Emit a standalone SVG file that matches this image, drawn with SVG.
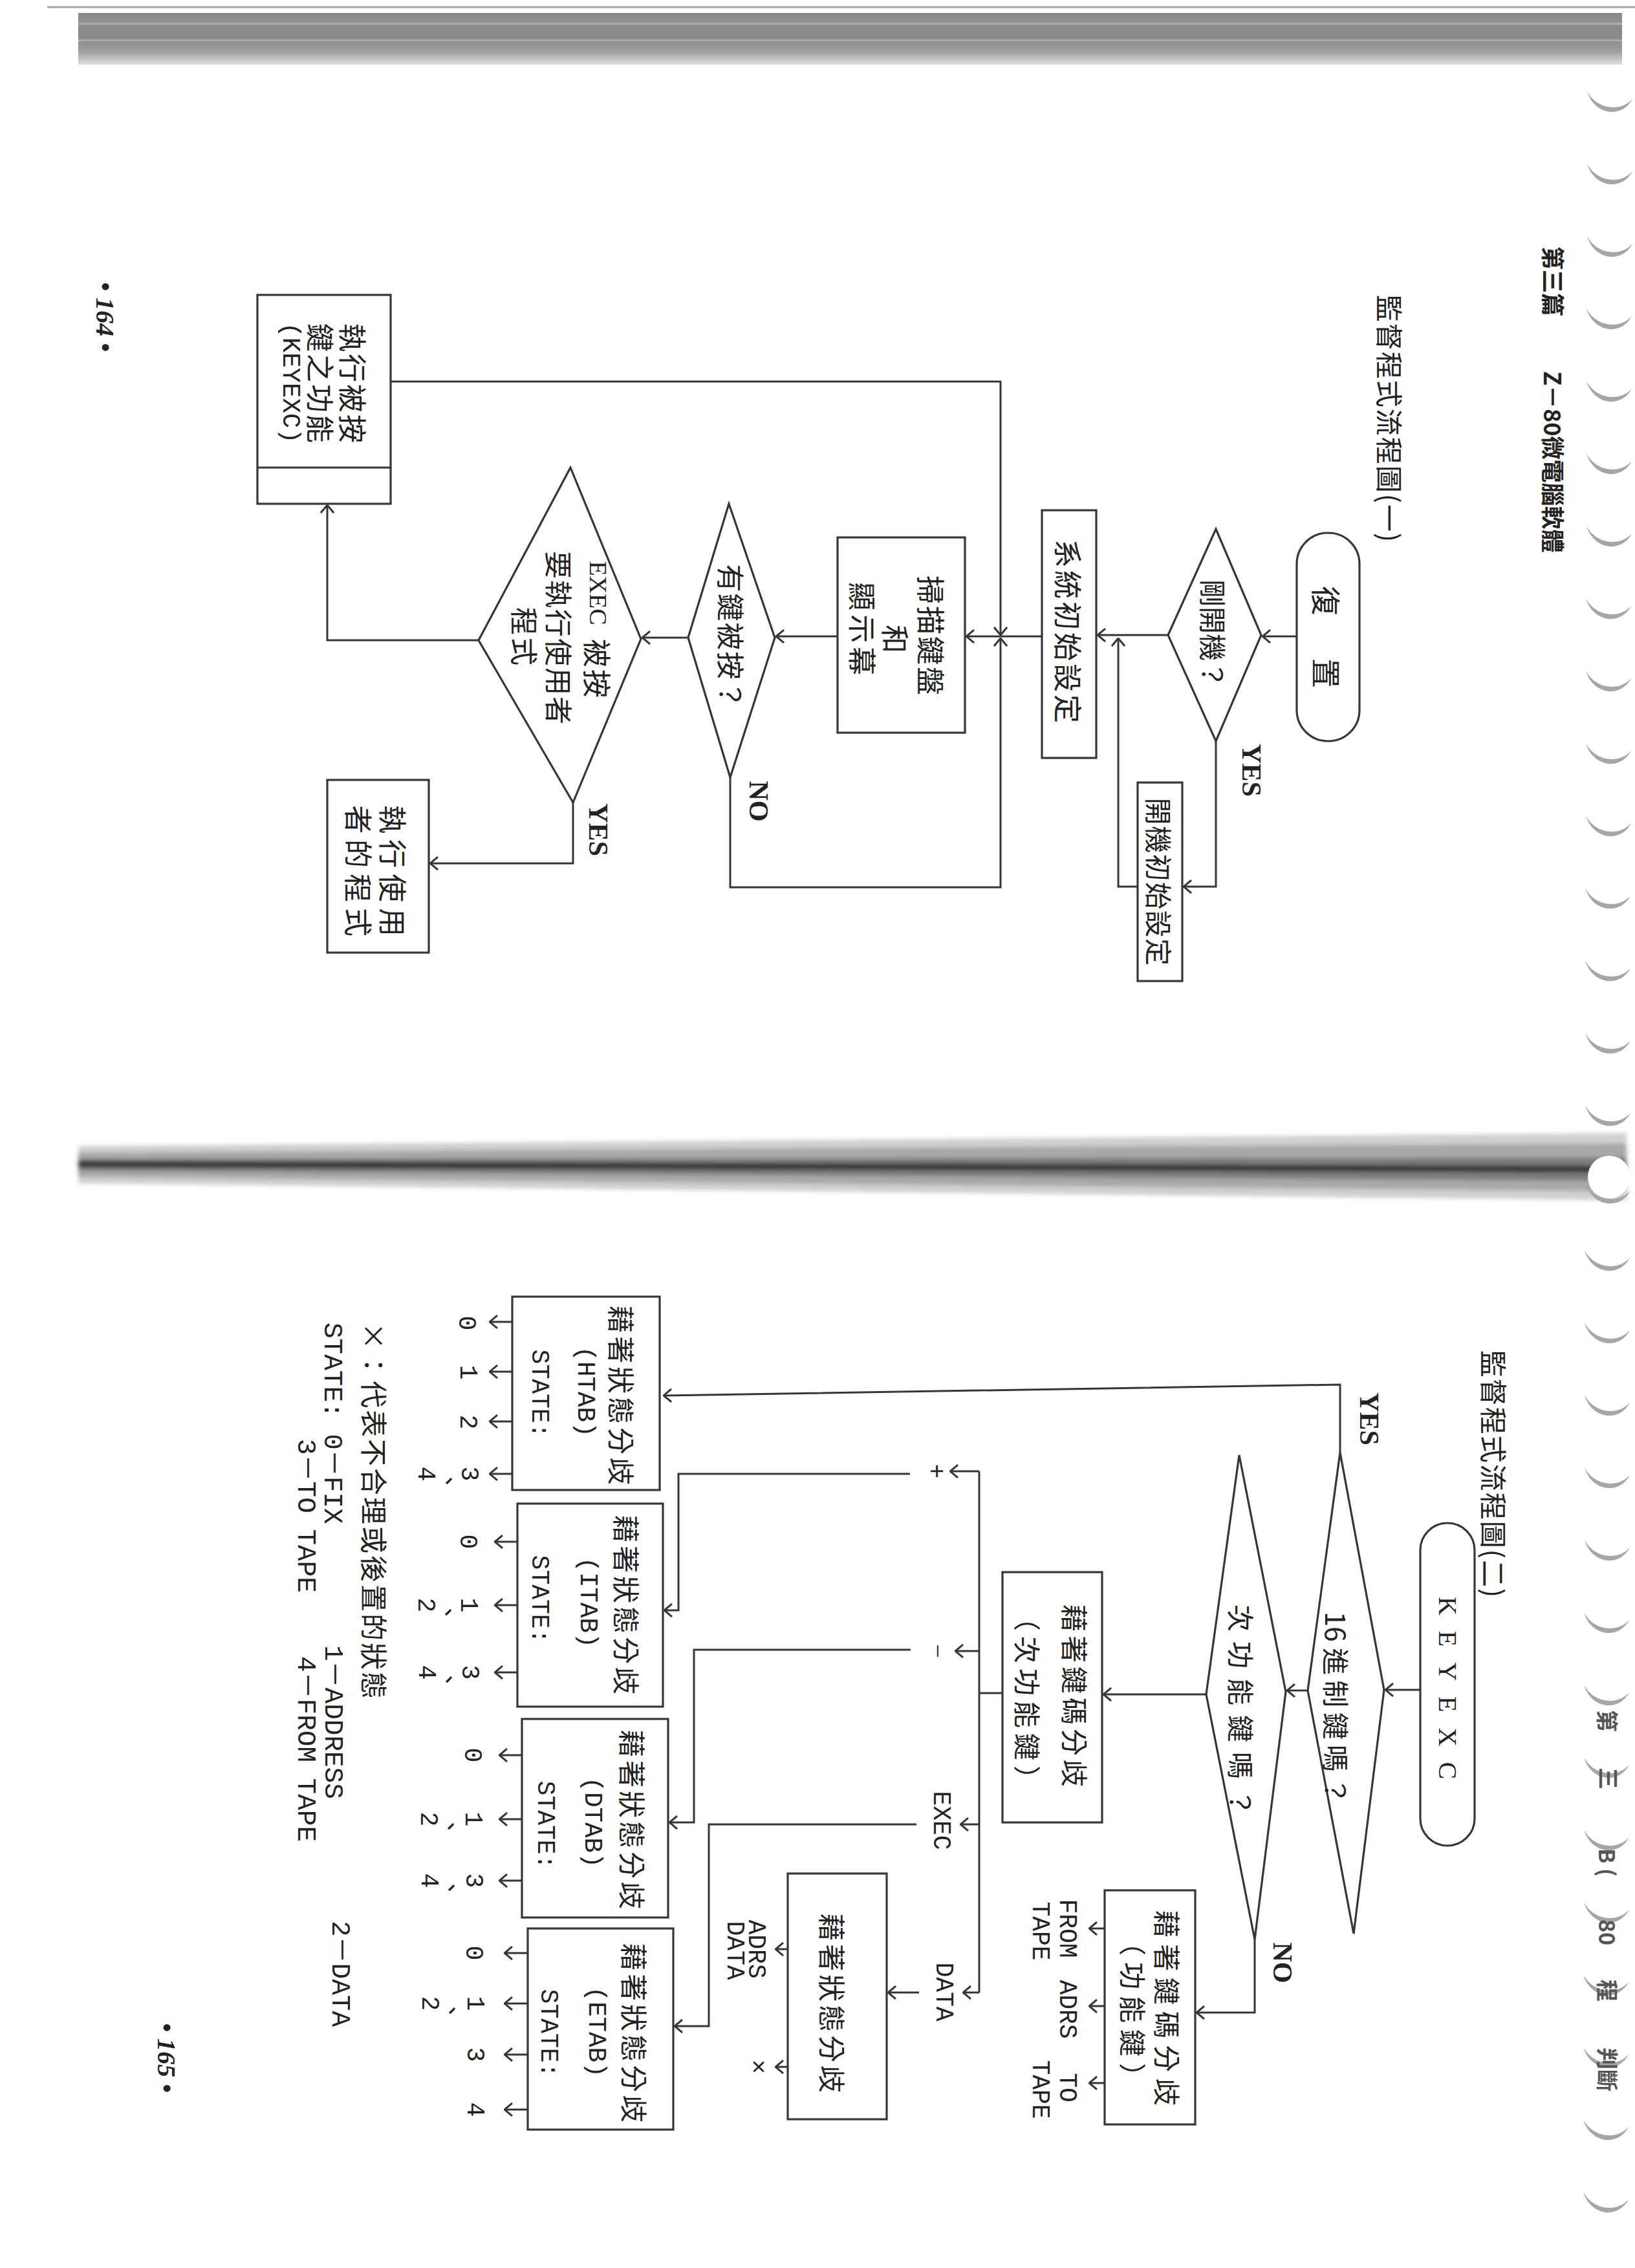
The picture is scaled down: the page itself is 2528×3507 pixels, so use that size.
<svg xmlns="http://www.w3.org/2000/svg" width="2528" height="3507" viewBox="0 0 2528 3507">
  <defs>
    <style>
      .ln { fill: none; stroke: #363636; stroke-width: 3; stroke-linejoin: miter; }
      .arr { marker-end: url(#ah); }
      .box { fill: #ffffff; stroke: #363636; stroke-width: 3.2; }
      .cjk { font-family: "Noto Sans CJK TC", "Noto Sans CJK SC", sans-serif; fill: #222222; text-anchor: middle; dominant-baseline: central; }
      .hdr { font-family: "Noto Sans CJK TC", "Noto Sans CJK SC", sans-serif; fill: #222222; font-weight: 700; dominant-baseline: central; }
      .frag { font-family: "Noto Sans CJK TC", "Noto Sans CJK SC", sans-serif; fill: #555555; font-weight: 700; font-size: 34px; text-anchor: middle; dominant-baseline: central; }
      .mono { font-family: "Liberation Mono", "Noto Sans CJK TC", monospace; fill: #222222; text-anchor: middle; dominant-baseline: central; }
      .serif { font-family: "Liberation Serif", "Noto Sans CJK TC", serif; fill: #222222; text-anchor: middle; dominant-baseline: central; }
      .yn { font-family: "Liberation Serif", serif; font-weight: 700; font-size: 42px; fill: #222222; text-anchor: middle; dominant-baseline: central; }
      .pg { font-family: "Liberation Serif", serif; font-weight: 700; font-style: italic; font-size: 40px; fill: #222222; text-anchor: middle; dominant-baseline: central; }
      .st { font-size: 38px; }
      .fn { font-size: 41px; text-anchor: start; }
      .ring { fill: #a6a6a6; stroke: none; }
    </style>
    <marker id="ah" viewBox="0 0 14 22" refX="13" refY="11" markerWidth="14" markerHeight="22" markerUnits="userSpaceOnUse" orient="auto">
      <path d="M1,1 L13,11 L1,21" fill="none" stroke="#363636" stroke-width="3"/>
    </marker>
    <linearGradient id="topband" x1="0" y1="0" x2="0" y2="1">
      <stop offset="0" stop-color="#888888"/>
      <stop offset="0.18" stop-color="#909090"/>
      <stop offset="0.21" stop-color="#b2b2b2"/>
      <stop offset="0.24" stop-color="#8b8b8b"/>
      <stop offset="0.5" stop-color="#898989"/>
      <stop offset="0.53" stop-color="#b4b4b4"/>
      <stop offset="0.56" stop-color="#909090"/>
      <stop offset="0.75" stop-color="#a0a0a0"/>
      <stop offset="0.9" stop-color="#c6c6c6"/>
      <stop offset="1" stop-color="#e0e0e0"/>
    </linearGradient>
    <filter id="soft" x="-5%" y="-50%" width="110%" height="200%">
      <feGaussianBlur stdDeviation="3"/>
    </filter>
    <!-- shadow crescent left by one binding hole -->
    <path id="hole" class="ring" d="M-34 -16 C-24 20 19 28 36 -4 C17 17 -20 12 -34 -16 Z"/>
  </defs>

  <rect x="0" y="0" width="2528" height="3507" fill="#ffffff"/>

  <!-- paper edge, gutter shadows and binding holes -->
  <g id="paper">
    <path d="M73 11 H2528" stroke="#a6a6a6" stroke-width="3"/>
    <rect x="121" y="20" width="2387" height="80" fill="url(#topband)"/>
    <g filter="url(#soft)">
      <polygon points="121,1772 2515,1752 2515,1856 121,1830" fill="#d0d0d0"/>
      <polygon points="121,1782 2515,1768 2515,1842 121,1820" fill="#a8a8a8"/>
      <polygon points="121,1792 2515,1790 2515,1826 121,1810" fill="#7c7c7c"/>
      <path d="M121 1800 L2515 1808" stroke="#343434" stroke-width="10"/>
    </g>
    <circle cx="2488" cy="1820" r="33" fill="#ffffff"/>
    <g id="rings">
      <use href="#hole" x="2488" y="157"/>
      <use href="#hole" x="2488" y="269"/>
      <use href="#hole" x="2488" y="381"/>
      <use href="#hole" x="2487" y="493"/>
      <use href="#hole" x="2487" y="605"/>
      <use href="#hole" x="2487" y="717"/>
      <use href="#hole" x="2487" y="829"/>
      <use href="#hole" x="2486" y="941"/>
      <use href="#hole" x="2486" y="1053"/>
      <use href="#hole" x="2486" y="1165"/>
      <use href="#hole" x="2486" y="1277"/>
      <use href="#hole" x="2485" y="1389"/>
      <use href="#hole" x="2485" y="1501"/>
      <use href="#hole" x="2485" y="1613"/>
      <use href="#hole" x="2485" y="1725"/>
      <use href="#hole" x="2485" y="1845"/>
      <use href="#hole" x="2484" y="1949"/>
      <use href="#hole" x="2484" y="2061"/>
      <use href="#hole" x="2484" y="2173"/>
      <use href="#hole" x="2484" y="2285"/>
      <use href="#hole" x="2484" y="2397"/>
      <use href="#hole" x="2483" y="2509"/>
      <use href="#hole" x="2483" y="2621"/>
      <use href="#hole" x="2483" y="2733"/>
      <use href="#hole" x="2483" y="2845"/>
      <use href="#hole" x="2483" y="2957"/>
      <use href="#hole" x="2482" y="3069"/>
      <use href="#hole" x="2482" y="3181"/>
      <use href="#hole" x="2482" y="3293"/>
      <use href="#hole" x="2482" y="3405"/>
    </g>
  </g>

  <!-- running heads and page numbers -->
  <g id="page-furniture">
    <text class="hdr" font-size="36" text-anchor="middle" transform="translate(2403 435) rotate(90)">第三篇</text>
    <text class="hdr" font-size="36" text-anchor="start" transform="translate(2403 574) rotate(90)">Z－80微電腦軟體</text>
    <text class="pg" transform="translate(162 490) rotate(90)">• 164 •</text>
    <text class="pg" transform="translate(257 3182) rotate(90)">• 165 •</text>
    <text class="frag" transform="translate(2486 2661) rotate(90)">第</text>
    <text class="frag" transform="translate(2488 2750) rotate(90)">三</text>
    <text class="frag" transform="translate(2486 2880) rotate(90)">B (</text>
    <text class="frag" transform="translate(2486 2988) rotate(90)">80</text>
    <text class="frag" transform="translate(2486 3078) rotate(90)">程</text>
    <text class="frag" transform="translate(2486 3200) rotate(90)">判斷</text>
  </g>

  <!-- ===== Flowchart (一) ===== -->
  <text class="cjk" font-size="42" letter-spacing="2" transform="translate(2150 648) rotate(90)">監督程式流程圖(一)</text>

  <g id="c1-connectors">
    <path class="ln arr" d="M2005 984 H1952"/>
    <path class="ln arr" d="M1806 982 H1697"/>
    <path class="ln arr" d="M1880 1146 V1371 H1830"/>
    <path class="ln arr" d="M1759 1371 H1729 V987"/>
    <path class="ln arr" d="M1611 984 H1494"/>
    <path class="ln arr" d="M604 590 H1547 V982"/>
    <path class="ln arr" d="M1129 1202 V1372 H1547 V987"/>
    <path class="ln arr" d="M1295 984 H1200"/>
    <path class="ln arr" d="M1064 986 H993"/>
    <path class="ln arr" d="M740 990 H506 V781"/>
    <path class="ln arr" d="M886 1241 V1335 H665"/>
    <text class="yn" transform="translate(1935 1191) rotate(90)">YES</text>
    <text class="yn" transform="translate(1173 1239) rotate(90)">NO</text>
    <text class="yn" transform="translate(925 1283) rotate(90)">YES</text>
  </g>

  <g id="c1-reset">
    <rect class="box" x="2005" y="824" width="97" height="322" rx="48"/>
    <text class="cjk" font-size="46" letter-spacing="10" transform="translate(2053 990) rotate(90)">復　置</text>
  </g>
  <g id="c1-poweron">
    <polygon class="box" points="1880,818 1950,982 1880,1146 1806,982"/>
    <text class="cjk" font-size="42" transform="translate(1877 980) rotate(90)">剛開機？</text>
  </g>
  <g id="c1-sysinit">
    <rect class="box" x="1611" y="789" width="84" height="383"/>
    <text class="cjk" font-size="44" letter-spacing="4" transform="translate(1653 978) rotate(90)">系統初始設定</text>
  </g>
  <g id="c1-coldinit">
    <rect class="box" x="1759" y="1210" width="69" height="307"/>
    <text class="cjk" font-size="42" letter-spacing="1.5" transform="translate(1793 1364) rotate(90)">開機初始設定</text>
  </g>
  <g id="c1-scan">
    <rect class="box" x="1295" y="831" width="197" height="302"/>
    <text class="cjk" font-size="44" letter-spacing="3" transform="translate(1441 984) rotate(90)">掃描鍵盤</text>
    <text class="cjk" font-size="44" transform="translate(1386 988) rotate(90)">和</text>
    <text class="cjk" font-size="44" letter-spacing="6" transform="translate(1335 975) rotate(90)">顯示幕</text>
  </g>
  <g id="c1-keyq">
    <polygon class="box" points="1127,779 1198,986 1129,1202 1064,986"/>
    <text class="cjk" font-size="43" letter-spacing="2" transform="translate(1132 985) rotate(90)">有鍵被按？</text>
  </g>
  <g id="c1-execq">
    <polygon class="box" points="882,723 991,988 886,1241 740,990"/>
    <text class="serif" font-size="38" transform="translate(925 917) rotate(90)">EXEC</text>
    <text class="cjk" font-size="44" letter-spacing="3" transform="translate(925 1035) rotate(90)">被按</text>
    <text class="cjk" font-size="43" letter-spacing="2" transform="translate(866 987) rotate(90)">要執行使用者</text>
    <text class="cjk" font-size="43" letter-spacing="4" transform="translate(813 986) rotate(90)">程式</text>
  </g>
  <g id="c1-keyexc">
    <rect class="box" x="398" y="456" width="206" height="323"/>
    <path class="ln" d="M398 723 H604"/>
    <text class="cjk" font-size="44" letter-spacing="3" transform="translate(547 594) rotate(90)">執行被按</text>
    <text class="cjk" font-size="44" letter-spacing="3" transform="translate(497 594) rotate(90)">鍵之功能</text>
    <text class="mono" font-size="39" transform="translate(448 592) rotate(90)">(KEYEXC)</text>
  </g>
  <g id="c1-userprog">
    <rect class="box" x="506" y="1206" width="157" height="267"/>
    <text class="cjk" font-size="44" letter-spacing="9" transform="translate(609 1351) rotate(90)">執行使用</text>
    <text class="cjk" font-size="44" letter-spacing="9" transform="translate(556 1351) rotate(90)">者的程式</text>
  </g>

  <!-- ===== Flowchart (二) ===== -->
  <text class="cjk" font-size="42" letter-spacing="2" transform="translate(2311 2280) rotate(90)">監督程式流程圖(二)</text>

  <g id="c2-connectors">
    <path class="ln arr" d="M2196 2613 H2142"/>
    <path class="ln arr" d="M2022 2614 H1990"/>
    <path class="ln arr" d="M2072 2246 V2141 L1026 2158"/>
    <path class="ln arr" d="M1865 2620 H1706"/>
    <path class="ln arr" d="M1940 2999 V3112 H1850"/>
    <path class="ln arr" d="M1708 2982 H1684"/>
    <path class="ln arr" d="M1708 3102 H1684"/>
    <path class="ln arr" d="M1708 3221 H1684"/>
    <path class="ln" d="M1550 2618 H1514"/>
    <path class="ln" d="M1514 2275 V3081"/>
    <path class="ln arr" d="M1514 2275 H1469"/>
    <path class="ln arr" d="M1514 2553 H1477"/>
    <path class="ln arr" d="M1514 2821 H1485"/>
    <path class="ln arr" d="M1514 3081 H1489"/>
    <path class="ln arr" d="M1407 2279 H1049 V2490 H1027"/>
    <path class="ln arr" d="M1408 2551 H1073 V2818 H1035"/>
    <path class="ln arr" d="M1417 2821 H1096 V3133 H1043"/>
    <path class="ln arr" d="M1421 3081 H1373"/>
    <path class="ln arr" d="M1218 3014 H1199"/>
    <path class="ln arr" d="M1218 3196 H1199"/>
    <text class="yn" transform="translate(2117 2194) rotate(90)">YES</text>
    <text class="yn" transform="translate(1983 3035) rotate(90)">NO</text>
    <text class="mono" font-size="38" transform="translate(1446 2275) rotate(90)">+</text>
    <text class="serif" font-size="38" transform="translate(1450 2553) rotate(90)">−</text>
    <text class="mono" font-size="38" transform="translate(1454 2815) rotate(90)">EXEC</text>
    <text class="mono" font-size="38" transform="translate(1458 3080) rotate(90)">DATA</text>
    <text class="mono" font-size="38" transform="translate(1649 2982) rotate(90)">FROM</text>
    <text class="mono" font-size="38" transform="translate(1607 2986) rotate(90)">TAPE</text>
    <text class="mono" font-size="38" transform="translate(1649 3107) rotate(90)">ADRS</text>
    <text class="mono" font-size="38" transform="translate(1649 3228) rotate(90)">TO</text>
    <text class="mono" font-size="38" transform="translate(1607 3231) rotate(90)">TAPE</text>
    <text class="mono" font-size="38" transform="translate(1168 3014) rotate(90)">ADRS</text>
    <text class="mono" font-size="38" transform="translate(1135 3016) rotate(90)">DATA</text>
    <text class="mono" font-size="38" transform="translate(1170 3196) rotate(90)">×</text>
  </g>

  <g id="c2-keyexc">
    <rect class="box" x="2196" y="2355" width="84" height="499" rx="42"/>
    <text class="serif" font-size="40" letter-spacing="24" transform="translate(2238 2622) rotate(90)">KEYEXC</text>
  </g>
  <g id="c2-hexq">
    <polygon class="box" points="2072,2246 2140,2613 2093,2990 2022,2614"/>
    <text class="cjk" font-size="42" transform="translate(2068 2645) rotate(90)"><tspan>16 </tspan><tspan letter-spacing="8">進制鍵嗎？</tspan></text>
  </g>
  <g id="c2-subq">
    <polygon class="box" points="1916,2250 1988,2616 1940,2999 1865,2620"/>
    <text class="cjk" font-size="42" letter-spacing="15" transform="translate(1920 2652) rotate(90)">次功能鍵嗎？</text>
  </g>
  <g id="c2-fnkey">
    <rect class="box" x="1708" y="2923" width="140" height="362"/>
    <text class="cjk" font-size="42" letter-spacing="10" transform="translate(1806 3110) rotate(90)">藉著鍵碼分歧</text>
    <text class="cjk" font-size="42" letter-spacing="10" transform="translate(1753 3112) rotate(90)">（功能鍵）</text>
  </g>
  <g id="c2-subkey">
    <rect class="box" x="1550" y="2431" width="154" height="387"/>
    <text class="cjk" font-size="42" letter-spacing="6" transform="translate(1663 2625) rotate(90)">藉著鍵碼分歧</text>
    <text class="cjk" font-size="42" letter-spacing="8" transform="translate(1590 2630) rotate(90)">（次功能鍵）</text>
  </g>
  <g id="c2-datastate">
    <rect class="box" x="1218" y="2897" width="153" height="380"/>
    <text class="cjk" font-size="42" letter-spacing="5" transform="translate(1288 3100) rotate(90)">藉著狀態分歧</text>
  </g>

  <g id="c2-htab">
    <rect class="box" x="792" y="2005" width="228" height="299"/>
    <text class="cjk" font-size="42" letter-spacing="5" transform="translate(962 2160) rotate(90)">藉著狀態分歧</text>
    <text class="mono" font-size="39" transform="translate(904 2152) rotate(90)">(HTAB)</text>
    <text class="mono st" transform="translate(833 2155) rotate(90)">STATE:</text>
    <path class="ln arr" d="M792 2044 H757"/>
    <path class="ln arr" d="M792 2121 H757"/>
    <path class="ln arr" d="M792 2198 H757"/>
    <path class="ln arr" d="M792 2279 H757"/>
    <text class="mono st" transform="translate(720 2046) rotate(90)">0</text>
    <text class="mono st" transform="translate(722 2122) rotate(90)">1</text>
    <text class="mono st" transform="translate(722 2199) rotate(90)">2</text>
    <text class="mono st" transform="translate(724 2279) rotate(90)">3</text>
    <text class="cjk" font-size="36" transform="translate(696 2290) rotate(90)">、</text>
    <text class="mono st" transform="translate(657 2279) rotate(90)">4</text>
  </g>
  <g id="c2-itab">
    <rect class="box" x="800" y="2325" width="225" height="314"/>
    <text class="cjk" font-size="42" letter-spacing="5" transform="translate(970 2484) rotate(90)">藉著狀態分歧</text>
    <text class="mono" font-size="39" transform="translate(908 2478) rotate(90)">(ITAB)</text>
    <text class="mono st" transform="translate(833 2473) rotate(90)">STATE:</text>
    <path class="ln arr" d="M800 2384 H765"/>
    <path class="ln arr" d="M800 2482 H765"/>
    <path class="ln arr" d="M800 2586 H765"/>
    <text class="mono st" transform="translate(722 2384) rotate(90)">0</text>
    <text class="mono st" transform="translate(723 2482) rotate(90)">1</text>
    <text class="cjk" font-size="36" transform="translate(695 2493) rotate(90)">、</text>
    <text class="mono st" transform="translate(657 2482) rotate(90)">2</text>
    <text class="mono st" transform="translate(725 2586) rotate(90)">3</text>
    <text class="cjk" font-size="36" transform="translate(696 2597) rotate(90)">、</text>
    <text class="mono st" transform="translate(658 2586) rotate(90)">4</text>
  </g>
  <g id="c2-dtab">
    <rect class="box" x="807" y="2658" width="226" height="307"/>
    <text class="cjk" font-size="42" letter-spacing="5" transform="translate(979 2816) rotate(90)">藉著狀態分歧</text>
    <text class="mono" font-size="39" transform="translate(915 2818) rotate(90)">(DTAB)</text>
    <text class="mono st" transform="translate(842 2822) rotate(90)">STATE:</text>
    <path class="ln arr" d="M807 2714 H772"/>
    <path class="ln arr" d="M807 2813 H772"/>
    <path class="ln arr" d="M807 2908 H772"/>
    <text class="mono st" transform="translate(729 2714) rotate(90)">0</text>
    <text class="mono st" transform="translate(730 2813) rotate(90)">1</text>
    <text class="cjk" font-size="36" transform="translate(699 2824) rotate(90)">、</text>
    <text class="mono st" transform="translate(661 2813) rotate(90)">2</text>
    <text class="mono st" transform="translate(731 2908) rotate(90)">3</text>
    <text class="cjk" font-size="36" transform="translate(700 2919) rotate(90)">、</text>
    <text class="mono st" transform="translate(662 2908) rotate(90)">4</text>
  </g>
  <g id="c2-etab">
    <rect class="box" x="816" y="2982" width="225" height="311"/>
    <text class="cjk" font-size="42" letter-spacing="5" transform="translate(982 3146) rotate(90)">藉著狀態分歧</text>
    <text class="mono" font-size="39" transform="translate(921 3142) rotate(90)">(ETAB)</text>
    <text class="mono st" transform="translate(847 3144) rotate(90)">STATE:</text>
    <path class="ln arr" d="M816 3020 H780"/>
    <path class="ln arr" d="M816 3098 H780"/>
    <path class="ln arr" d="M816 3177 H780"/>
    <path class="ln arr" d="M816 3262 H780"/>
    <text class="mono st" transform="translate(731 3020) rotate(90)">0</text>
    <text class="mono st" transform="translate(733 3098) rotate(90)">1</text>
    <text class="cjk" font-size="36" transform="translate(701 3109) rotate(90)">、</text>
    <text class="mono st" transform="translate(663 3098) rotate(90)">2</text>
    <text class="mono st" transform="translate(733 3177) rotate(90)">3</text>
    <text class="mono st" transform="translate(733 3262) rotate(90)">4</text>
  </g>

  <!-- legend -->
  <g id="legend">
    <text class="cjk" font-size="42" letter-spacing="3" style="text-anchor:start" transform="translate(580 2045) rotate(90)">×：代表不合理或後置的狀態</text>
    <text class="mono fn" transform="translate(513 2045) rotate(90)">STATE: 0－FIX</text>
    <text class="mono fn" transform="translate(472 2225) rotate(90)">3－TO TAPE</text>
    <text class="mono fn" transform="translate(514 2544) rotate(90)">1－ADDRESS</text>
    <text class="mono fn" transform="translate(472 2561) rotate(90)">4－FROM TAPE</text>
    <text class="mono fn" transform="translate(525 2970) rotate(90)">2－DATA</text>
  </g>
</svg>
